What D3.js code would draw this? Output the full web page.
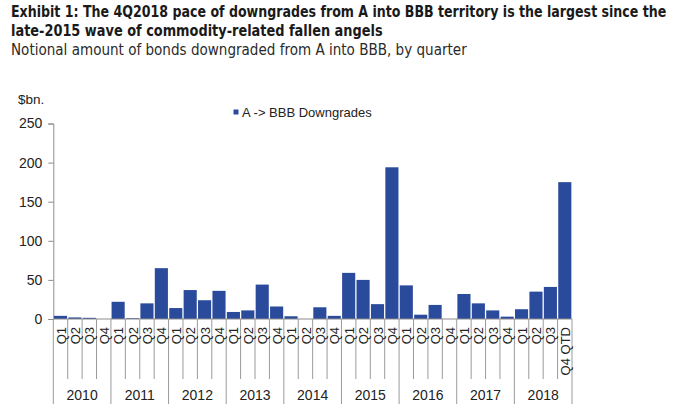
<!DOCTYPE html>
<html>
<head>
<meta charset="utf-8">
<script src="https://cdn.jsdelivr.net/npm/d3@7"></script>
<style>
  html, body { margin: 0; padding: 0; background: #fff; }
  svg { display: block; }
  text { font-family: "Liberation Sans", Arial, sans-serif; }
</style>
</head>
<body>
<svg id="chart" width="680" height="405"></svg>
<script>
// ---- Data ----
const years = ["2010","2011","2012","2013","2014","2015","2016","2017","2018"];
const quarterLabels = ["Q1","Q2","Q3","Q4"];
const lastQuarterLabel = "Q4 QTD";
const values = [
  4, 2, 1.5, 0,
  22, 1, 20, 65,
  14, 37, 24, 36,
  9, 11, 44, 16,
  3.5, 0, 15, 4,
  59, 50, 19, 194,
  43, 5.5, 18, 0,
  32, 20, 11, 3,
  12.5, 35, 41, 175
];
const yTicks = [0, 50, 100, 150, 200, 250];
const seriesName = "A -> BBB Downgrades";
const titleLines = [
  "Exhibit 1: The 4Q2018 pace of downgrades from A into BBB territory is the largest since the",
  "late-2015 wave of commodity-related fallen angels"
];
const subtitle = "Notional amount of bonds downgraded from A into BBB, by quarter";
const unitLabel = "$bn.";

// ---- Build rows ----
const rows = [];
years.forEach((yr, yi) => {
  quarterLabels.forEach((q, qi) => {
    const i = yi * 4 + qi;
    const isLast = (yi === years.length - 1 && qi === 3);
    rows.push({ id: yr + "-" + q, year: yr, q: isLast ? lastQuarterLabel : q, value: values[i] });
  });
});

const svg = d3.select("#chart");
const plotLeft = 53.3, plotRight = 572, plotTop = 123.5, plotBottom = 319;
const axisColor = "#8c8c8c";
const barColor = "#2a4a9c";

// ---- Titles (condensed by horizontal scaling to fit the reference widths) ----
const tfont = '"Liberation Sans Narrow","DejaVu Sans Condensed","Roboto",sans-serif';
function fittedText(str, tx, ty, targetW, weight, color) {
  const g = svg.append("g").attr("transform", `translate(${tx},${ty})`);
  const t = g.append("text").attr("x", 0).attr("y", 0)
    .style("font-family", tfont).attr("font-size", 16.5)
    .attr("font-weight", weight).attr("fill", color).text(str);
  const w = t.node().getComputedTextLength();
  const s = w > 0 ? targetW / w : 1;
  t.attr("transform", `scale(${s},1)`);
}
fittedText(titleLines[0], 11, 16.5, 656, "bold", "#1a1a1a");
fittedText(titleLines[1], 11, 36, 372, "bold", "#1a1a1a");
fittedText(subtitle, 11, 55, 456, "normal", "#2a2a2a");

// ---- Scales ----
const x = d3.scaleBand().domain(rows.map(d => d.id)).range([plotLeft, plotRight]).paddingInner(0.09).paddingOuter(0.045);
const xStep = d3.scaleBand().domain(rows.map(d => d.id)).range([plotLeft, plotRight]);
const y = d3.scaleLinear().domain([0, 250]).range([plotBottom, plotTop]);

// ---- Y axis ----
const yAxis = svg.append("g").attr("transform", `translate(${plotLeft},0)`)
  .call(d3.axisLeft(y).tickValues(yTicks).tickSize(5).tickPadding(6));
yAxis.select(".domain").attr("stroke", axisColor);
yAxis.selectAll(".tick line").attr("stroke", axisColor);
yAxis.selectAll(".tick text").attr("font-size", 14).attr("fill", "#222")
  .style("font-family", '"Liberation Sans", Arial, sans-serif');

svg.append("text").attr("x", 18).attr("y", 104).attr("font-size", 13.5).attr("fill", "#222").text(unitLabel);

// ---- Bars ----
svg.append("g").selectAll("rect").data(rows).join("rect")
  .attr("x", d => x(d.id))
  .attr("width", x.bandwidth())
  .attr("y", d => y(d.value))
  .attr("height", d => y(0) - y(d.value))
  .attr("fill", barColor);

// ---- X axis line ----
svg.append("line").attr("x1", plotLeft).attr("x2", plotRight).attr("y1", plotBottom).attr("y2", plotBottom)
  .attr("stroke", axisColor).attr("stroke-width", 1);

// separators
const bounds = d3.range(rows.length + 1);
svg.append("g").selectAll("line").data(bounds).join("line")
  .attr("x1", i => i < rows.length ? xStep(rows[i].id) : plotRight)
  .attr("x2", i => i < rows.length ? xStep(rows[i].id) : plotRight)
  .attr("y1", plotBottom)
  .attr("y2", i => (i % 4 === 0) ? 404 : 379)
  .attr("stroke", "#9a9a9a").attr("stroke-width", 1);

// quarter labels
svg.append("g").selectAll("text").data(rows).join("text")
  .attr("transform", d => `translate(${xStep(d.id) + xStep.bandwidth() / 2 + 0.5},327) rotate(-90)`)
  .attr("text-anchor", "end").attr("dy", "0.35em")
  .attr("font-size", 13).attr("fill", "#222").text(d => d.q);

// year labels
svg.append("g").selectAll("text").data(years).join("text")
  .attr("x", yr => {
    const ids = rows.filter(r => r.year === yr).map(r => r.id);
    return (xStep(ids[0]) + xStep(ids[ids.length - 1]) + xStep.bandwidth()) / 2;
  })
  .attr("y", 400).attr("text-anchor", "middle")
  .attr("font-size", 14).attr("fill", "#222").text(yr => yr);

// ---- Legend ----
svg.append("rect").attr("x", 233.5).attr("y", 109.5).attr("width", 5).attr("height", 5).attr("fill", barColor);
svg.append("text").attr("x", 242).attr("y", 116.5).attr("font-size", 13).attr("fill", "#222").text(seriesName);
</script>
</body>
</html>
